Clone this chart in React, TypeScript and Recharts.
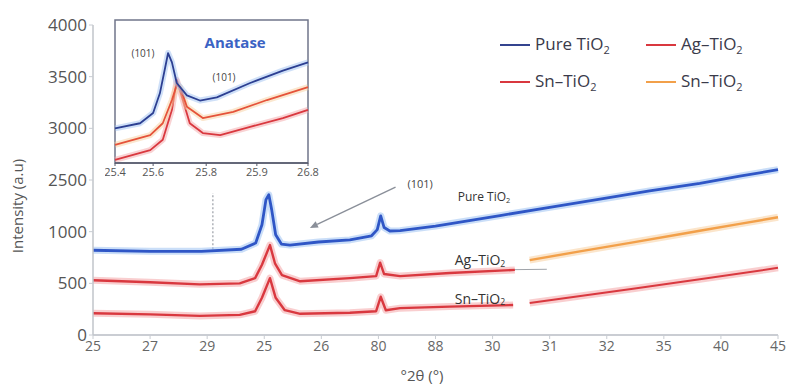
import React from 'react';
import { LineChart, Line, XAxis, YAxis, ReferenceLine, ReferenceDot, ReferenceArea } from 'recharts';

// ---------- axis labels ----------
const xTickLabels = ['25', '27', '29', '25', '26', '80', '88', '30', '31', '32', '35', '40', '45'];
const xTickPositions = [0, 1, 2, 3, 4, 5, 6, 7, 8, 9, 10, 11, 12];
const yTickValues = [0, 500, 1000, 2500, 3000, 3500, 4000];
const yTickLabels = ['0', '500', '1000', '2500', '3000', '3500', '4000'];

// ---------- main series: [x position index, intensity] ----------
const pureTiO2: [number, number][] = [
  [0, 820], [1, 810], [1.9, 810], [2.6, 830], [2.85, 890], [2.96, 1200], [3.03, 1930], [3.08, 2070],
  [3.13, 1640], [3.2, 970], [3.3, 880], [3.45, 870], [3.95, 900], [4.5, 920], [4.88, 960], [4.98, 1060],
  [5.04, 1460], [5.1, 1120], [5.2, 1020], [5.38, 1030], [6.0, 1163], [7.13, 1467], [8.0, 1705],
  [8.88, 1943], [9.75, 2181], [10.63, 2400], [11.33, 2537], [12, 2600],
];
const agTiO2: [number, number][] = [
  [0, 530], [1, 510], [1.87, 490], [2.57, 500], [2.84, 550], [2.96, 680], [3.1, 870], [3.19, 690],
  [3.31, 580], [3.63, 520], [4.5, 550], [4.96, 570], [5.03, 700], [5.1, 590], [5.38, 570], [6.25, 600],
  [7.39, 630],
];
const agTiO2Tail: [number, number][] = [
  [7.65, 725], [8.53, 809], [9.46, 897], [10.28, 975], [10.63, 1026], [11.33, 1226], [12, 1418],
];
const snTiO2: [number, number][] = [
  [0, 210], [1, 200], [1.87, 185], [2.57, 195], [2.84, 230], [2.96, 360], [3.1, 550], [3.2, 360],
  [3.36, 240], [3.63, 205], [4.5, 215], [4.96, 230], [5.04, 370], [5.13, 240], [5.38, 260], [6.25, 275],
  [7.36, 290],
];
const snTiO2Tail: [number, number][] = [
  [7.65, 310], [9.46, 448], [10.63, 539], [12, 650],
];

// ---------- inset (Anatase 101) ----------
const insetTickLabels = ['25.4', '25.6', '25.8', '25.9', '26.8'];
const insetTickPositions = [0, 0.79, 1.89, 2.94, 4];
const insetPure: [number, number][] = [
  [0, 3000], [0.52, 3050], [0.79, 3150], [0.93, 3340], [1.04, 3590], [1.1, 3730], [1.18, 3640],
  [1.28, 3440], [1.49, 3320], [1.76, 3270], [2.11, 3300], [2.8, 3440], [3.48, 3560], [4, 3640],
];
const insetMid: [number, number][] = [
  [0, 2840], [0.73, 2935], [0.99, 3050], [1.18, 3275], [1.28, 3420], [1.35, 3400], [1.49, 3210],
  [1.82, 3100], [2.45, 3160], [3.15, 3275], [4, 3400],
];
const insetLow: [number, number][] = [
  [0, 2695], [0.73, 2790], [0.99, 2890], [1.18, 3180], [1.28, 3470], [1.39, 3300], [1.55, 3050],
  [1.82, 2955], [2.18, 2935], [2.8, 3015], [3.48, 3100], [4, 3180],
];

// axis with a compressed 1000–2500 segment
function toAxis(v: number): number {
  if (v <= 1000) return v;
  if (v <= 2500) return 1000 + (v - 1000) / 3;
  return v - 1000;
}
const axisTicks = yTickValues.map(toAxis);
const rows = (pts: [number, number][]) => pts.map(([x, v]) => ({ x, y: toAxis(v) }));
const insetRows = (pts: [number, number][]) => pts.map(([x, v]) => ({ x, y: v }));

const BLUE = '#2f56c6';
const BLUE_HALO = '#9fc2f2';
const RED = '#d9383f';
const RED_HALO = '#f4a5a8';
const ORANGE = '#f2a04a';
const ORANGE_HALO = '#f8d0a0';
const FONT = '"Open Sans", sans-serif';

const chem = (base: string, size: number) => (
  <>
    {base}
    <tspan dy={size * 0.28} fontSize={size * 0.62}>2</tspan>
  </>
);

const textShape = (content: React.ReactNode, size: number, color: string, weight = 400) =>
  (p: any) => (
    <text x={p.cx} y={p.cy} textAnchor="middle" dominantBaseline="central" fontSize={size}
      fill={color} fontWeight={weight} fontFamily={FONT}>
      {content}
    </text>
  );

const ArrowShape = (p: any) => {
  const { x1, y1, x2, y2 } = p;
  const ang = Math.atan2(y2 - y1, x2 - x1);
  const L = 8, W = 3.5;
  const bx = x2 - L * Math.cos(ang), by = y2 - L * Math.sin(ang);
  const pts = `${x2},${y2} ${bx + W * Math.sin(ang)},${by - W * Math.cos(ang)} ${bx - W * Math.sin(ang)},${by + W * Math.cos(ang)}`;
  return (
    <g>
      <line x1={x1} y1={y1} x2={bx} y2={by} stroke="#8a8f99" strokeWidth={1.4} />
      <polygon points={pts} fill="#8a8f99" />
    </g>
  );
};

const series = (data: [number, number][], color: string, halo: string, key: string, w = 2.4) => [
  <Line key={key + 'h'} data={rows(data)} dataKey="y" type="linear" dot={false} isAnimationActive={false}
    stroke={halo} strokeWidth={7} strokeOpacity={0.55} strokeLinejoin="round" legendType="none" />,
  <Line key={key} data={rows(data)} dataKey="y" type="linear" dot={false} isAnimationActive={false}
    stroke={color} strokeWidth={w} strokeLinejoin="round" legendType="none" />,
];

const insetSeries = (data: [number, number][], color: string, halo: string, key: string) => [
  <Line key={key + 'h'} data={insetRows(data)} dataKey="y" type="linear" dot={false} isAnimationActive={false}
    stroke={halo} strokeWidth={6} strokeOpacity={0.5} strokeLinejoin="round" />,
  <Line key={key} data={insetRows(data)} dataKey="y" type="linear" dot={false} isAnimationActive={false}
    stroke={color} strokeWidth={1.8} strokeLinejoin="round" />,
];

const legendItems = [
  { label: 'Pure TiO', color: '#34448f', left: 500, top: 45 },
  { label: 'Ag–TiO', color: RED, left: 646, top: 45 },
  { label: 'Sn–TiO', color: RED, left: 500, top: 82 },
  { label: 'Sn–TiO', color: ORANGE, left: 646, top: 82 },
];

export default function App() {
  return (
    <div style={{ position: 'absolute', left: 0, top: 0, width: 790, height: 388, background: '#fff', fontFamily: FONT }}>
      <LineChart width={790} height={388} margin={{ top: 25, right: 12, left: 33, bottom: 23 }}>
        <XAxis type="number" dataKey="x" domain={[0, 12]} ticks={xTickPositions}
          tickFormatter={(v: number) => xTickLabels[Math.round(v)]} height={30}
          axisLine={{ stroke: '#b8bcc4', strokeWidth: 1.5 }} tickLine={{ stroke: '#c8ccd2' }} tickSize={4}
          tick={{ fontSize: 14, fill: '#666', fontFamily: FONT }}
          label={() => (
            <text x={422} y={375} textAnchor="middle" dominantBaseline="central" fontSize={15} fill="#555" fontFamily={FONT}>
              °2θ (°)
            </text>
          )} />
        <YAxis type="number" domain={[0, 3000]} ticks={axisTicks} width={60}
          tickFormatter={(v: number) => yTickLabels[axisTicks.indexOf(v)]}
          axisLine={{ stroke: '#c0c4ca', strokeWidth: 1.5 }} tickLine={{ stroke: '#c8ccd2' }} tickSize={4}
          tick={{ fontSize: 17, fill: '#555', fontFamily: FONT }}
          label={() => (
            <text x={17} y={206} transform="rotate(-90 17 206)" textAnchor="middle" dominantBaseline="central"
              fontSize={15} fill="#555" fontFamily={FONT}>
              Intensity (a.u)
            </text>
          )} />
        <ReferenceLine segment={[{ x: 2.1, y: toAxis(830) }, { x: 2.1, y: toAxis(2120) }]}
          stroke="#9a9ea6" strokeDasharray="2 2" strokeWidth={1.2} />
        <ReferenceLine segment={[{ x: 5.3, y: toAxis(2290) }, { x: 3.8, y: toAxis(1110) }]} shape={ArrowShape} />
        <ReferenceLine segment={[{ x: 7.3, y: toAxis(632) }, { x: 7.95, y: toAxis(636) }]}
          stroke="#a0a4aa" strokeWidth={1} />
        {series(snTiO2, RED, RED_HALO, 'sn')}
        {series(snTiO2Tail, RED, RED_HALO, 'snt', 2)}
        {series(agTiO2, RED, RED_HALO, 'ag')}
        {series(agTiO2Tail, ORANGE, ORANGE_HALO, 'agt', 2.4)}
        {series(pureTiO2, BLUE, BLUE_HALO, 'pure', 2.8)}
        <ReferenceDot x={5.73} y={toAxis(2410)} r={0} shape={textShape('(101)', 11, '#444')} />
        <ReferenceDot x={6.85} y={toAxis(2010)} r={0} shape={textShape(chem('Pure TiO', 12), 12, '#333')} />
        <ReferenceDot x={6.78} y={toAxis(726)} r={0} shape={textShape(chem('Ag–TiO', 14), 14, '#333')} />
        <ReferenceDot x={6.78} y={toAxis(358)} r={0} shape={textShape(chem('Sn–TiO', 14), 14, '#333')} />
      </LineChart>

      <div style={{ position: 'absolute', left: 105, top: 10 }}>
        <LineChart width={215} height={180} margin={{ top: 10, right: 12, left: 10, bottom: 5 }}>
          <XAxis type="number" dataKey="x" domain={[0, 4]} ticks={insetTickPositions}
            tickFormatter={(v: number) => insetTickLabels[insetTickPositions.indexOf(v)]} height={22}
            axisLine={{ stroke: '#55596a', strokeWidth: 1.5 }} tickLine={{ stroke: '#55596a' }} tickSize={3}
            tick={{ fontSize: 11, fill: '#555', fontFamily: FONT }} interval={0} />
          <YAxis type="number" domain={[2665, 4050]} hide />
          <ReferenceArea x1={0} x2={4} y1={2665} y2={4050} fill="#fff" fillOpacity={1} stroke="#70768a" strokeWidth={1.5} />
          {insetSeries(insetLow, RED, RED_HALO, 'il')}
          {insetSeries(insetMid, '#e5533a', ORANGE_HALO, 'im')}
          {insetSeries(insetPure, '#2c3f92', BLUE_HALO, 'ip')}
          <ReferenceDot x={2.49} y={3836} r={0} shape={textShape('Anatase', 15, '#3b63c4', 700)} />
          <ReferenceDot x={0.58} y={3730} r={0} shape={textShape('(101)', 10, '#444')} />
          <ReferenceDot x={2.26} y={3497} r={0} shape={textShape('(101)', 10, '#444')} />
        </LineChart>
      </div>

      {legendItems.map((it, i) => (
        <div key={i} style={{ position: 'absolute', left: it.left, top: it.top - 12, height: 24, display: 'flex', alignItems: 'center' }}>
          <div style={{ width: 30, height: 2, background: it.color, marginRight: 5 }} />
          <span style={{ fontSize: 17, color: '#3a3a4a', fontFamily: FONT, whiteSpace: 'nowrap' }}>
            {it.label}<sub style={{ fontSize: 11 }}>2</sub>
          </span>
        </div>
      ))}
    </div>
  );
}
